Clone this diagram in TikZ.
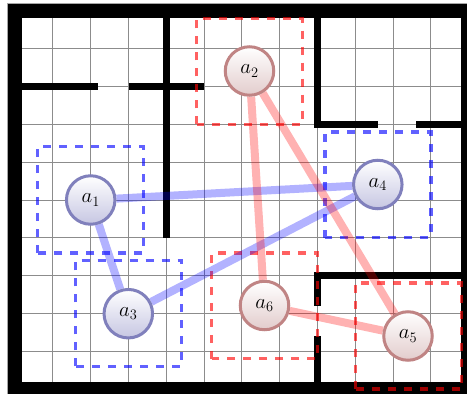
\documentclass[tikz,border=0pt]{standalone}
\usetikzlibrary{backgrounds}
\definecolor{ringblue}{RGB}{128,128,188}
\definecolor{ringred}{RGB}{192,132,132}
\definecolor{fillblue}{RGB}{198,198,226}
\definecolor{fillred}{RGB}{226,204,204}
\tikzset{
  x=1pt,y=-1pt,
  agentblue/.style={circle,draw=ringblue,line width=3pt,minimum size=48.5pt,inner sep=0pt,top color=white,bottom color=fillblue,font=\fontsize{20}{24}\selectfont},
  agentred/.style={circle,draw=ringred,line width=3pt,minimum size=48.5pt,inner sep=0pt,top color=white,bottom color=fillred,font=\fontsize{20}{24}\selectfont},
  gridline/.style={draw=black!45,line width=0.9pt},
  thickwall/.style={line width=7.3pt,line cap=butt,draw=black},
  outerwall/.style={line width=14.6pt,draw=black},
  outeredge/.style={line width=0.7pt,draw=black!35},
  zoneblue/.style={draw=blue,opacity=0.62,line width=3.2pt,dash pattern=on 8pt off 8pt},
  zonered/.style={draw=red,opacity=0.62,line width=3.2pt,dash pattern=on 8pt off 8pt},
  linkblue/.style={draw=blue,opacity=0.3,line width=8pt},
  linkred/.style={draw=red,opacity=0.3,line width=8pt},
}
\begin{document}
\begin{tikzpicture}
\useasboundingbox (0,0) rectangle (467,394);
\node[agentblue] (a1) at (90.7,200) {$a_1$};
\node[agentred]  (a2) at (249.5,71) {$a_2$};
\node[agentblue] (a3) at (128.3,313.7) {$a_3$};
\node[agentblue] (a4) at (377.8,184.5) {$a_4$};
\node[agentred]  (a5) at (408,336) {$a_5$};
\node[agentred]  (a6) at (264.5,305.5) {$a_6$};
\begin{scope}[on background layer]
\clip (0,0) rectangle (467,394);
% grid
\foreach \i in {1,...,11} \draw[gridline] ({15+37.8*\i},11) -- ({15+37.8*\i},389);
\foreach \j in {1,...,9} \draw[gridline] (15,{11+37.8*\j}) -- (468.6,{11+37.8*\j});
% walls
\draw[outeredge] (7.5,3.6) rectangle (476,397);
\draw[outerwall] (15,11) rectangle (468.6,389);
\draw[thickwall] (15,86.3) -- (98.3,86.3);
\draw[thickwall] (128.5,86.3) -- (204,86.3);
\draw[thickwall] (166.3,11) -- (166.3,238);
\draw[thickwall] (317.7,11) -- (317.7,124.3) -- (378,124.3);
\draw[thickwall] (416,124.3) -- (468.6,124.3);
\draw[thickwall] (317.7,275.7) -- (468.6,275.7);
\draw[thickwall] (317.7,272) -- (317.7,305.7);
\draw[thickwall] (317.7,336.3) -- (317.7,389);
% zones: drawn from the lower left corner, going up first
\draw[zoneblue] (37.7,253) rectangle (143.7,146.7);
\draw[zoneblue] (75.7,366.3) rectangle (181.7,260.3);
\draw[zoneblue] (325,237.7) rectangle (431,132);
\draw[zonered] (196.7,124.3) rectangle (302.3,18.3);
\draw[zonered] (211.7,358.7) rectangle (317.7,253);
\draw[zonered] (355.3,389) rectangle (461.7,283);
% links
\draw[linkblue] (a1) -- (a4);
\draw[linkblue] (a1) -- (a3);
\draw[linkblue] (a3) -- (a4);
\draw[linkred] (a2) -- (a6);
\draw[linkred] (a2) -- (a5);
\draw[linkred] (a6) -- (a5);
\end{scope}
\end{tikzpicture}
\end{document}
